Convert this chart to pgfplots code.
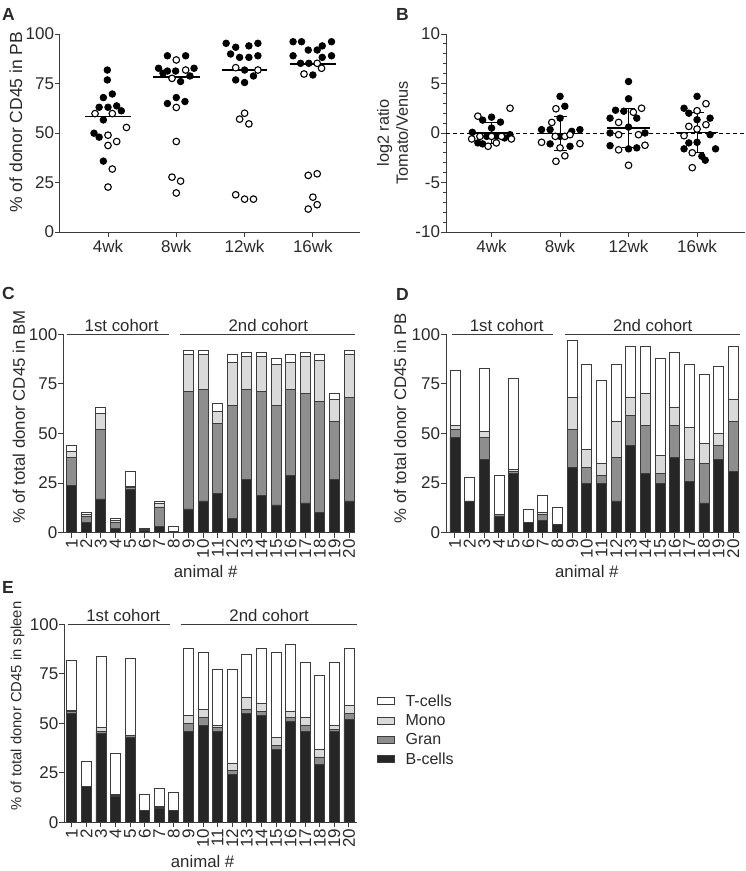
\documentclass[border=0pt]{standalone}
\usepackage{pgfplots}
\pgfplotsset{compat=1.18}
\usepackage{pgfplotstable}
\usepackage{fontspec}
\setmainfont{Liberation Sans}
\definecolor{axcol}{HTML}{3C3C3C}
\definecolor{txt}{HTML}{2A2A2A}
\definecolor{bcell}{HTML}{262626}
\definecolor{gran}{HTML}{8E8E8E}
\definecolor{mono}{HTML}{DADADA}
\newcommand{\tf}{\fontsize{17}{20}\selectfont}
\newcommand{\lf}{\fontsize{16.8}{20}\selectfont}

\pgfplotsset{
  prism/.style={
    scale only axis,
    axis x line*=bottom, axis y line*=left,
    axis line style={line width=1pt, draw=axcol, -},
    tick style={line width=1pt, draw=axcol},
    tick align=outside, major tick length=5pt, minor tick length=3pt,
    tick label style={font=\tf, text=txt},
    yticklabel style={inner xsep=0.8pt},
    label style={font=\lf, text=txt},
    /pgf/number format/assume math mode=true,
    clip=false,
  },
  barp/.style={prism, ybar stacked, bar width=10pt, ymin=0, ymax=100,
    ytick={0,25,50,75,100},
    xtick={1,...,20}, xticklabel style={rotate=90, anchor=east, inner xsep=1.5pt},
    xlabel={animal \#},
    every axis plot/.append style={draw=axcol, line width=0.8pt}},
  filledm/.style={only marks, mark=*, mark size=3.3pt, mark options={fill=black, draw=black, line width=0.8pt}},
  openm/.style={only marks, mark=*, mark size=3.3pt, mark options={fill=white, draw=black, line width=1.1pt}},
}

\pgfplotstableread{
x B G M T
1 24 14 3 3
2 5 3 1 1
3 17 35 8 3
4 2 3 1 1
5 22 1 0.3 7.7
6 1 0.5 0 0.5
7 3 10 2 1
8 0.8 0 0 2.2
9 12 59 19 2
10 16 56 18 2
11 20 35 6 4
12 7 57 22 4
13 27 45 17 2
14 19 52 18 2
15 14 50 21 3
16 29 43 14 4
17 15 55 19 2
18 10 56 21 3
19 27 29 11 3
20 16 52 22 2
}\tabC

\pgfplotstableread{
x B G M T
1 48 4 2 28
2 16 0 0 12
3 37 11 3 32
4 8 1 0 20
5 30 1 1 46
6 5 0 0 7
7 6 3 1 9
8 4 0 0 9
9 33 19 16 29
10 25 8 9 43
11 25 4 6 42
12 16 22 18 29
13 44 15 9 26
14 30 24 16 24
15 25 5 9 49
16 38 16 9 28
17 26 11 16 32
18 15 20 10 35
19 37 7 6 34
20 31 25 11 27
}\tabD

\pgfplotstableread{
x B G M T
1 55 1 0.5 25.5
2 18 0 0 13
3 45 1 2 36
4 13 0.5 0.5 21
5 43 1 0 39
6 6 0 0 8
7 7 0.5 0.5 9
8 6 0 0 9
9 46 4 4 34
10 49 4 4 29
11 46 2 1 28
12 24 2 4 47
13 55 2 6 22
14 54 2 4 28
15 37 2 4 43
16 51 2 3 34
17 46 3 4 28
18 29 4 4 37
19 46 1 2 32
20 52 3 4 29
}\tabE

\begin{document}
\begin{tikzpicture}[x=1pt,y=1pt]
\path[use as bounding box] (0,0) rectangle (746,-871);

% panel letters
\tikzset{plet/.style={anchor=base west, inner sep=0, font=\fontsize{17.5}{20}\selectfont\bfseries, text=txt}}
\node[plet] at (2,-20) {A};
\node[plet] at (396,-20) {B};
\node[plet] at (2,-299) {C};
\node[plet] at (396,-300) {D};
\node[plet] at (2,-593) {E};

% ---------------- A ----------------
\begin{axis}[prism, at={(60pt,-232pt)}, anchor=south west, width=300pt, height=198pt,
  xmin=0.297, xmax=4.69, ymin=0, ymax=100, ytick={0,25,50,75,100},
  xtick={1,2,3,4}, xticklabels={4wk,8wk,12wk,16wk},
  ylabel={\% of donor CD45 in PB},
  ylabel style={at={(axis description cs:-0.147,0.555)}, anchor=center, font=\fontsize{17.5}{20}\selectfont}]
\addplot[black, line width=1.2pt, unbounded coords=jump] coordinates {
 (0.67,58.2) (1.33,58.2) (1.5,nan) (1.66,78.3) (2.34,78.3) (2.5,nan)
 (2.67,81.8) (3.33,81.8) (3.5,nan) (3.66,84.9) (4.34,84.9)};
\addplot[filledm] coordinates {
 (0.99,81.8) (0.99,76.8) (1.063,69.7) (0.932,67.9) (0.87,63) (1.0,63) (1.127,63.7) (1.195,61.2) (0.932,56.6) (0.795,49.9) (0.87,47.9) (0.932,35.8)
 (1.87,89) (2.137,89) (1.74,82.7) (1.87,81.3) (1.99,81.3) (2.26,82.7) (1.805,80.2) (2.2,78.8) (2.063,76) (2.0,67.9) (1.87,64.9) (2.127,65.9)
 (2.73,95.3) (2.87,93.3) (3.063,94) (3.195,95.3) (2.795,89.9) (2.927,88.2) (3.063,88.2) (3.195,89) (3.0,81.8) (3.13,78.8) (2.87,76.8) (3.0,75.5)
 (3.71,96.1) (3.834,96.1) (4.137,94) (4.273,96.1) (3.932,91.9) (4.063,91.9) (3.71,89) (4.273,89) (4.137,88.2) (3.82,85.2) (3.94,85.2) (4.0,79.3)};
\addplot[openm] coordinates {
 (0.81,59.8) (1.063,59.8) (1.27,52.8) (1.0,48.9) (1.0,43.7) (1.127,45.7) (1.063,31.8) (1.0,22.7)
 (2.0,86.9) (2.137,81.8) (1.937,77.6) (2.0,62.9) (2.0,45.7) (1.937,27.7) (2.063,25.7) (2.0,19.7)
 (2.87,83) (3.195,81.8) (3.0,60) (2.927,57) (3.063,54.6) (2.87,18.8) (3.0,16.6) (3.13,16.6)
 (4.063,85.2) (4.127,82.7) (3.87,79.8) (3.932,28.6) (4.063,29.4) (4.0,17.6) (4.063,13.8) (3.932,11.6)};
\end{axis}

% ---------------- B ----------------
\begin{axis}[prism, at={(446pt,-232pt)}, anchor=south west, width=299pt, height=198pt,
  xmin=0.335, xmax=4.70, ymin=-10, ymax=10, ytick={-10,-5,0,5,10}, yticklabels={-10,-5,0,5,10},
  minor y tick num=4,
  xtick={1,2,3,4}, xticklabels={4wk,8wk,12wk,16wk},
  ylabel={log2 ratio\\Tomato/Venus},
  ylabel style={at={(axis description cs:-0.179,0.5)}, anchor=center, align=center, font=\fontsize{16.3}{19}\selectfont}]
\addplot[black, line width=1pt, dashed, dash pattern=on 4pt off 3pt] coordinates {(0.335,0) (4.70,0)};
\addplot[black, line width=1.2pt, unbounded coords=jump] coordinates {
 (0.69,0) (1.31,0) (1.5,nan) (1.69,-0.05) (2.31,-0.05) (2.5,nan)
 (2.69,0.5) (3.31,0.5) (3.5,nan) (3.69,0.07) (4.31,0.07)};
\addplot[draw=none, mark=none, error bars/.cd, y dir=both, y explicit,
  error bar style={line width=1pt, black},
  error mark options={rotate=90, mark size=6.5pt, line width=1pt, black}]
  table[x=x, y=y, y error=e] {
x y e
1 0 1.03
2 -0.05 1.7
3 0.5 2.0
4 0.07 2.0
};
\addplot[filledm] coordinates {
 (1,1.6) (0.87,1.3) (1.13,1.1) (0.72,0.07) (1,0.5) (0.93,-0.34) (1.07,-0.34) (1.27,-0.17) (0.8,-1.0) (0.87,-1.1) (1.19,-0.5)
 (2,3.7) (2.07,2.7) (2,1.5) (1.73,0.34) (1.855,0.34) (2.29,0.34) (2.17,0.17) (2,-0.34) (1.855,-1.1) (2.145,-1.34)
 (3,5.2) (3,3.46) (2.81,2.3) (2.93,2.2) (3.12,1.5) (2.73,1.5) (3,0.6) (2.73,0.0) (3.24,0) (2.73,-1.28) (3,-1.6) (3.12,-1.5)
 (4,3.7) (3.81,2.5) (3.88,2.0) (4,1.34) (4.19,1.5) (4.19,-0.17) (4,-0.94) (3.88,-1.0) (3.81,-1.6) (4.27,-1.6) (4.12,-2.75) (4.07,-2.35)};
\addplot[openm] coordinates {
 (0.8,1.7) (1.27,2.5) (0.71,-0.6) (0.83,-0.34) (1.145,-0.34) (1.29,-0.6) (0.95,-1.34) (1.07,-1.0) (1.0,-0.34)
 (1.94,2.45) (1.88,1.07) (1.73,-0.94) (1.93,-0.34) (2.07,-0.34) (2.29,-1.07) (2,-1.5) (2.07,-2.3) (1.94,-2.86) (2.145,-0.17)
 (3.07,2.1) (3.19,2.5) (2.855,1.07) (2.855,-0.17) (3.145,-0.17) (3.24,-1.24) (2.855,-1.7) (3,-3.26)
 (4.13,2.96) (4,2.25) (3.88,0.67) (4,0.4) (4.13,0.84) (3.81,-0.27) (3.93,-2.0) (3.93,-3.5)};
\end{axis}

% ---------------- C ----------------
\begin{axis}[barp, at={(63.3pt,-532.7pt)}, anchor=south west, width=291.7pt, height=198.4pt,
  xmin=0.425, xmax=20.41,
  ylabel={\% of total donor CD45 in BM},
  ylabel style={at={(axis description cs:-0.152,0.583)}, anchor=center},
  xlabel style={at={(axis description cs:0.488,-0.198)}, anchor=center}]
\addplot[fill=bcell] table[x=x, y=B] {\tabC};
\addplot[fill=gran] table[x=x, y=G] {\tabC};
\addplot[fill=mono] table[x=x, y=M] {\tabC};
\addplot[fill=white] table[x=x, y=T] {\tabC};
\draw[line width=1pt, axcol] (axis cs:0.66,100) -- (axis cs:7.66,100);
\draw[line width=1pt, axcol] (axis cs:8.41,100) -- (axis cs:20.41,100);
\node[anchor=base, font=\lf, text=txt, yshift=3pt] at (axis cs:4.42,100) {1st cohort};
\node[anchor=base, font=\lf, text=txt, yshift=3pt] at (axis cs:14.47,100) {2nd cohort};
\end{axis}

% ---------------- D ----------------
\begin{axis}[barp, at={(446pt,-532.7pt)}, anchor=south west, width=294pt, height=198.4pt,
  xmin=0.386, xmax=20.46,
  ylabel={\% of total donor CD45 in PB},
  ylabel style={at={(axis description cs:-0.156,0.578)}, anchor=center},
  xlabel style={at={(axis description cs:0.479,-0.198)}, anchor=center}]
\addplot[fill=bcell] table[x=x, y=B] {\tabD};
\addplot[fill=gran] table[x=x, y=G] {\tabD};
\addplot[fill=mono] table[x=x, y=M] {\tabD};
\addplot[fill=white] table[x=x, y=T] {\tabD};
\draw[line width=1pt, axcol] (axis cs:0.775,100) -- (axis cs:7.67,100);
\draw[line width=1pt, axcol] (axis cs:8.51,100) -- (axis cs:20.46,100);
\node[anchor=base, font=\lf, text=txt, yshift=3pt] at (axis cs:4.53,100) {1st cohort};
\node[anchor=base, font=\lf, text=txt, yshift=3pt] at (axis cs:14.5,100) {2nd cohort};
\end{axis}

% ---------------- E ----------------
\begin{axis}[barp, at={(64.3pt,-822.3pt)}, anchor=south west, width=292.4pt, height=198pt,
  xmin=0.49, xmax=20.53,
  ylabel={\% of total donor CD45 in spleen},
  ylabel style={at={(axis description cs:-0.16,0.587)}, anchor=center, font=\fontsize{14.8}{18}\selectfont},
  xlabel style={at={(axis description cs:0.473,-0.2)}, anchor=center},
  reverse legend,
  legend image code/.code={\draw[#1] (0pt,-3.5pt) rectangle (17pt,3.5pt); \path (26pt,0pt);},
  legend style={at={(axis description cs:1.068,0.655)}, anchor=north west, draw=none, fill=none,
    font=\fontsize{16}{19}\selectfont, text=txt, row sep=2.5pt, inner sep=0pt},
  legend cell align=left]
\addplot[fill=bcell] table[x=x, y=B] {\tabE};
\addlegendentry{B-cells}
\addplot[fill=gran] table[x=x, y=G] {\tabE};
\addlegendentry{Gran}
\addplot[fill=mono] table[x=x, y=M] {\tabE};
\addlegendentry{Mono}
\addplot[fill=white] table[x=x, y=T] {\tabE};
\addlegendentry{T-cells}
\draw[line width=1pt, axcol] (axis cs:0.76,100) -- (axis cs:7.73,100);
\draw[line width=1pt, axcol] (axis cs:8.5,100) -- (axis cs:20.53,100);
\node[anchor=base, font=\lf, text=txt, yshift=3pt] at (axis cs:4.53,100) {1st cohort};
\node[anchor=base, font=\lf, text=txt, yshift=3pt] at (axis cs:14.53,100) {2nd cohort};
\end{axis}
\end{tikzpicture}
\end{document}
